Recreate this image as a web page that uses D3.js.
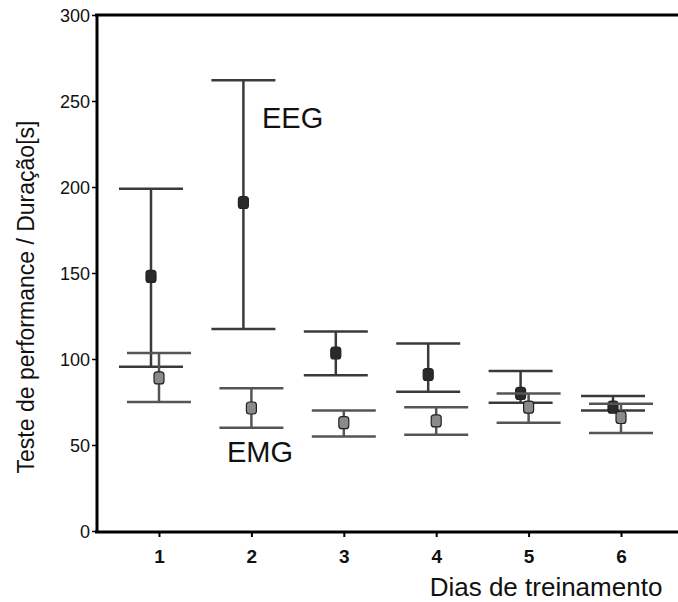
<!DOCTYPE html>
<html lang="pt">
    <head>
        <meta charset="UTF-8">
        <title>Teste de performance</title>
        <script src="https://cdn.jsdelivr.net/npm/d3@7"></script>
        <style type="text/css">
            body {margin: 0; background: #fff; overflow: hidden;}
            text {font-family: "Liberation Sans", Arial, sans-serif; fill: #111;}
        </style>
    </head>
    <body>
        <svg width="678" height="602"></svg>
        <script>
            var days = [1, 2, 3, 4, 5, 6];
            var yTicks = [0, 50, 100, 150, 200, 250, 300];

            // EEG group: mean, upper and lower bar ends
            var eegMean = [148, 191, 103.5, 91, 80, 72];
            var eegHigh = [199, 262, 116, 109, 93, 78.5];
            var eegLow = [95.5, 117.5, 90.5, 81, 74.5, 70];

            // EMG group
            var emgMean = [89, 71.5, 63, 64, 72, 66];
            var emgHigh = [103.5, 83, 70, 72, 80, 74];
            var emgLow = [75, 60, 55, 56, 63, 57];

            var svg = d3.select('svg');

            var x = d3.scaleLinear().domain([1, 6]).range([159, 621]);
            var y = d3.scaleLinear().domain([0, 300]).range([531, 15]);

            var series = [
                {name: 'EEG', shift: -8, mean: eegMean, high: eegHigh, low: eegLow, fill: '#2a2a2a', line: '#3a3a3a'},
                {name: 'EMG', shift: 0, mean: emgMean, high: emgHigh, low: emgLow, fill: '#8a8a8a', line: '#555'}
            ];

            // frame: left, bottom and top lines
            svg.append('line').attr('x1', 97).attr('x2', 97).attr('y1', y(300)).attr('y2', y(0))
                .attr('stroke', '#000').attr('stroke-width', 3);
            svg.append('line').attr('x1', 95).attr('x2', 678).attr('y1', y(0) + 1).attr('y2', y(0) + 1)
                .attr('stroke', '#000').attr('stroke-width', 3);
            svg.append('line').attr('x1', 95).attr('x2', 678).attr('y1', y(300)).attr('y2', y(300))
                .attr('stroke', '#000').attr('stroke-width', 3);

            var yAxis = svg.append('g')
                .attr('transform', 'translate(96,0)')
                .call(d3.axisLeft(y).tickValues(yTicks).tickSize(4).tickPadding(2));
            yAxis.select('.domain').remove();
            yAxis.selectAll('text').style('font-size', '18px').attr('dy', '0.36em');
            yAxis.selectAll('line').attr('stroke-width', 1.5);

            var xAxis = svg.append('g')
                .attr('transform', 'translate(0,' + (y(0) + 2) + ')')
                .call(d3.axisBottom(x).tickValues(days).tickFormat(d3.format('d')).tickSize(4).tickPadding(13));
            xAxis.select('.domain').remove();
            xAxis.selectAll('text').style('font-size', '19px').style('font-weight', 'bold');
            xAxis.selectAll('line').attr('stroke-width', 2);

            series.forEach(function(s) {
                var g = svg.append('g');
                var cx = function(d, i) { return x(days[i]) + s.shift; };

                g.selectAll('.stem')
                    .data(s.mean)
                    .enter()
                    .append('line')
                    .attr('x1', cx).attr('x2', cx)
                    .attr('y1', function(d, i) { return y(s.high[i]); })
                    .attr('y2', function(d, i) { return y(s.low[i]); })
                    .attr('stroke', s.line).attr('stroke-width', 2.5);

                [s.high, s.low].forEach(function(ends) {
                    g.selectAll(null)
                        .data(ends)
                        .enter()
                        .append('line')
                        .attr('x1', function(d, i) { return cx(d, i) - 32; })
                        .attr('x2', function(d, i) { return cx(d, i) + 32; })
                        .attr('y1', function(d) { return y(d); })
                        .attr('y2', function(d) { return y(d); })
                        .attr('stroke', s.line).attr('stroke-width', 2.5);
                });

                g.selectAll('rect')
                    .data(s.mean)
                    .enter()
                    .append('rect')
                    .attr('x', function(d, i) { return cx(d, i) - 5; })
                    .attr('y', function(d) { return y(d) - 6; })
                    .attr('width', 10).attr('height', 12)
                    .attr('rx', 3)
                    .attr('fill', s.fill)
                    .attr('stroke', '#222').attr('stroke-width', 1.2);
            });

            svg.append('text').attr('x', 262).attr('y', 128).style('font-size', '29px').text('EEG');
            svg.append('text').attr('x', 227).attr('y', 462).style('font-size', '29px').text('EMG');

            svg.append('text')
                .attr('x', 546).attr('y', 596)
                .attr('text-anchor', 'middle')
                .style('font-size', '26px')
                .text('Dias de treinamento');

            svg.append('text')
                .attr('transform', 'translate(34,297) rotate(-90)')
                .attr('text-anchor', 'middle')
                .style('font-size', '23px')
                .text('Teste de performance / Duração[s]');
        </script>
    </body>
</html>
